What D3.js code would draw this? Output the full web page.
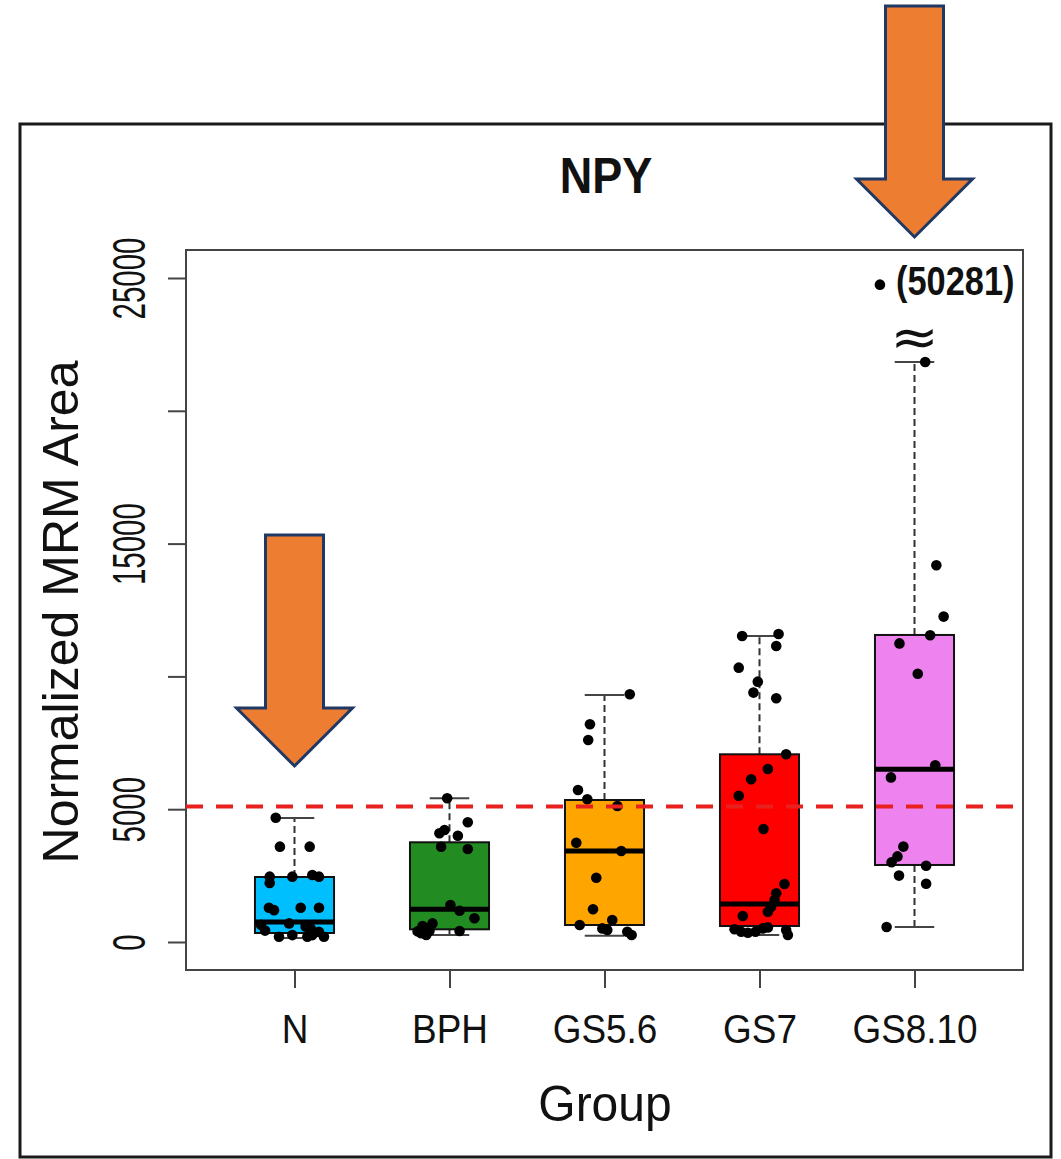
<!DOCTYPE html>
<html>
<head>
<meta charset="utf-8">
<script src="https://cdn.jsdelivr.net/npm/d3@7"></script>
<style>
  body { margin: 0; background: #fff; }
  text { font-family: "Liberation Sans", Arial, sans-serif; fill: #111; }
</style>
</head>
<body>
<svg id="chart" width="1061" height="1159"></svg>
<script>
const groups = ["N", "BPH", "GS5.6", "GS7", "GS8.10"]
const boxColors = ["#00BFFF", "#228B22", "#FFA500", "#FF0000", "#EE82EE"]

// box statistics
const whiskerLow = [150, 264, 237, 264, 565]
const q1 = [339, 478, 640, 602, 2900]
const medians = [753, 1231, 3426, 1431, 6500]
const q3 = [2447, 3754, 5346, 7067, 11560]
const whiskerHigh = [4669, 5410, 9300, 11521, 21837]

// jittered points: values and horizontal jitter (in group units)
const valuesN = [4680, 3590, 3590, 2460, 2220, 2460, 2520, 2460, 1290, 1200, 1290, 1290, 430, 200, 260, 200, 260, 200, 580, 510, 700, 650, 380]
const jitterN = [-0.121, -0.094, 0.098, -0.16, -0.16, -0.014, 0.115, 0.158, -0.165, -0.132, 0.04, 0.158, -0.19, -0.1, -0.014, 0.083, 0.115, 0.19, 0.072, 0.105, -0.035, -0.216, 0.158]
const valuesBPH = [5410, 4507, 4093, 4217, 4003, 3588, 3502, 1393, 1179, 892, 328, 264, 414, 600, 420, 700, 500, 400]
const jitterBPH = [-0.015, 0.118, -0.065, -0.032, 0.054, -0.054, 0.118, 0.006, 0.065, 0.161, -0.183, -0.15, 0.065, -0.174, -0.129, -0.11, -0.142, -0.206]
const valuesGS56 = [9326, 8196, 7605, 5723, 5373, 5120, 3739, 3426, 2421, 1231, 640, 828, 512, 452, 388, 264]
const jitterGS56 = [0.163, -0.094, -0.105, -0.171, -0.111, 0.083, -0.182, 0.108, -0.053, -0.074, -0.16, 0.05, -0.014, 0.018, 0.147, 0.175]
const valuesGS7 = [11521, 11596, 11145, 10330, 9803, 9391, 9178, 7067, 6514, 6125, 5508, 4255, 2184, 1833, 1581, 1329, 1141, 979, 478, 388, 350, 388, 512, 550, 452, 264]
const jitterGS7 = [-0.112, 0.123, 0.108, -0.134, -0.011, -0.039, 0.108, 0.172, 0.054, -0.054, -0.134, 0.026, 0.161, 0.108, 0.097, 0.075, 0.054, -0.108, -0.161, -0.118, -0.075, -0.026, 0.021, 0.054, 0.172, 0.183]
const valuesGS810 = [21837, 14187, 12252, 11547, 11242, 10101, 6653, 6198, 3592, 3223, 3005, 2870, 2500, 2195, 565]
const jitterGS810 = [0.069, 0.141, 0.188, 0.101, -0.097, 0.021, 0.134, -0.152, -0.072, -0.11, -0.148, 0.075, -0.1, 0.075, -0.18]

// the off-scale outlier, drawn above the axis break
const outlierValue = 50281
const outlierShownAt = 24750
const outlierJitter = -0.223
const breakAt = 22700

const cutoff = 5100
const yTicks = [0, 5000, 10000, 15000, 20000, 25000]
const yTickLabels = ["0", "5000", "", "15000", "", "25000"]

const svg = d3.select("#chart")

const x = d3.scaleLinear().domain([0.3, 5.7]).range([186, 1023])
const y = d3.scaleLinear().domain([0, 25000]).range([942, 278])
const plotTop = 250, plotBottom = 970

// outer frame
svg.append("rect")
  .attr("x", 20).attr("y", 124).attr("width", 1031).attr("height", 1033)
  .attr("fill", "#fff").attr("stroke", "#1a1a1a").attr("stroke-width", 3)

// plot box
svg.append("rect")
  .attr("x", x(0.3)).attr("y", plotTop)
  .attr("width", x(5.7) - x(0.3)).attr("height", plotBottom - plotTop)
  .attr("fill", "none").attr("stroke", "#444").attr("stroke-width", 2)

// y axis
let yAxis = svg.append("g")
  .attr("transform", "translate(" + x(0.3) + ",0)")
  .call(d3.axisLeft(y).tickValues(yTicks).tickSize(18).tickFormat((d, i) => yTickLabels[i]))
yAxis.select(".domain").remove()
yAxis.selectAll(".tick line").attr("stroke", "#444").attr("stroke-width", 2)
yAxis.selectAll(".tick text")
  .attr("x", 0).attr("y", -41).attr("dy", 0)
  .attr("text-anchor", "middle")
  .attr("transform", "rotate(-90) scale(0.64,1)")
  .style("font-size", "46px").style("fill", "#111")

// x axis
let xAxis = svg.append("g")
  .attr("transform", "translate(0," + plotBottom + ")")
  .call(d3.axisBottom(x).tickValues([1, 2, 3, 4, 5]).tickSize(18).tickFormat(d => groups[d - 1]))
xAxis.select(".domain").remove()
xAxis.selectAll(".tick line").attr("stroke", "#444").attr("stroke-width", 2)
xAxis.selectAll(".tick text")
  .attr("y", 73).attr("dy", 0)
  .attr("transform", "scale(0.9,1)")
  .style("font-size", "41px").style("fill", "#111")

// boxes
const boxW = 0.51
groups.forEach((g, i) => {
  let cx = i + 1
  let gb = svg.append("g")
  // whiskers
  gb.append("line")
    .attr("x1", x(cx)).attr("x2", x(cx))
    .attr("y1", y(q3[i])).attr("y2", y(whiskerHigh[i]))
    .attr("stroke", "#333").attr("stroke-width", 2).attr("stroke-dasharray", "7,4")
  gb.append("line")
    .attr("x1", x(cx)).attr("x2", x(cx))
    .attr("y1", y(q1[i])).attr("y2", y(whiskerLow[i]))
    .attr("stroke", "#333").attr("stroke-width", 2).attr("stroke-dasharray", "7,4")
  // staples
  ;[whiskerHigh[i], whiskerLow[i]].forEach(v => {
    gb.append("line")
      .attr("x1", x(cx - boxW / 4)).attr("x2", x(cx + boxW / 4))
      .attr("y1", y(v)).attr("y2", y(v))
      .attr("stroke", "#444").attr("stroke-width", 2)
  })
  gb.append("rect")
    .attr("x", x(cx - boxW / 2)).attr("width", x(cx + boxW / 2) - x(cx - boxW / 2))
    .attr("y", y(q3[i])).attr("height", y(q1[i]) - y(q3[i]))
    .attr("fill", boxColors[i]).attr("stroke", "#111").attr("stroke-width", 2)
  gb.append("line")
    .attr("x1", x(cx - boxW / 2)).attr("x2", x(cx + boxW / 2))
    .attr("y1", y(medians[i])).attr("y2", y(medians[i]))
    .attr("stroke", "#000").attr("stroke-width", 5)
})

// jittered points
const pointSets = [
  [valuesN, jitterN], [valuesBPH, jitterBPH], [valuesGS56, jitterGS56],
  [valuesGS7, jitterGS7], [valuesGS810, jitterGS810]
]
pointSets.forEach(([vals, jit], i) => {
  svg.append("g").selectAll("circle")
    .data(vals)
    .enter()
    .append("circle")
    .attr("cx", (d, k) => x(i + 1 + jit[k]))
    .attr("cy", d => y(d))
    .attr("r", 5.3)
    .attr("fill", "#000")
})

// outlier above the break
svg.append("circle")
  .attr("cx", x(5 + outlierJitter)).attr("cy", y(outlierShownAt))
  .attr("r", 5.3).attr("fill", "#000")
svg.append("text")
  .attr("transform", "translate(" + (x(5 + outlierJitter) + 16) + "," + (y(outlierShownAt) + 10) + ") scale(0.86,1)")
  .style("font-size", "40px").style("font-weight", "bold")
  .text("(" + outlierValue + ")")
svg.append("text")
  .attr("transform", "translate(" + x(5) + "," + (y(breakAt) + 16) + ") scale(1.45,1.3)")
  .attr("text-anchor", "middle")
  .style("font-family", "'DejaVu Sans', sans-serif")
  .style("font-size", "40px")
  .text("≈")

// cut-off line
svg.append("line")
  .attr("x1", x(0.3)).attr("x2", x(5.7))
  .attr("y1", y(cutoff)).attr("y2", y(cutoff))
  .attr("stroke", "#E8201E").attr("stroke-width", 4).attr("stroke-dasharray", "17,13")

// title and axis titles
svg.append("text")
  .attr("transform", "translate(606,193) scale(0.9,1)")
  .attr("text-anchor", "middle")
  .style("font-size", "50px").style("font-weight", "bold")
  .text("NPY")
svg.append("text")
  .attr("transform", "translate(605,1121) scale(0.96,1)")
  .attr("text-anchor", "middle")
  .style("font-size", "50px")
  .text("Group")
svg.append("text")
  .attr("transform", "translate(78,612) rotate(-90)")
  .attr("text-anchor", "middle")
  .style("font-size", "50px")
  .text("Normalized MRM Area")

// orange arrows pointing at N and GS8.10
const arrowTargets = [[1, 766, 535], [5, 237, 6]]
const arrowFill = "#ED7D31"
arrowTargets.forEach(([g, tipY, topY]) => {
  let cx = x(g)
  let shaftHalf = 29, headHalf = 58, headLen = 58
  let pts = [
    [cx - shaftHalf, topY], [cx + shaftHalf, topY],
    [cx + shaftHalf, tipY - headLen], [cx + headHalf, tipY - headLen],
    [cx, tipY],
    [cx - headHalf, tipY - headLen], [cx - shaftHalf, tipY - headLen]
  ]
  svg.append("path")
    .attr("d", d3.line()(pts) + "Z")
    .attr("fill", arrowFill).attr("stroke", "#1F3864").attr("stroke-width", 3)
    .attr("stroke-linejoin", "miter")
})
</script>
</body>
</html>
